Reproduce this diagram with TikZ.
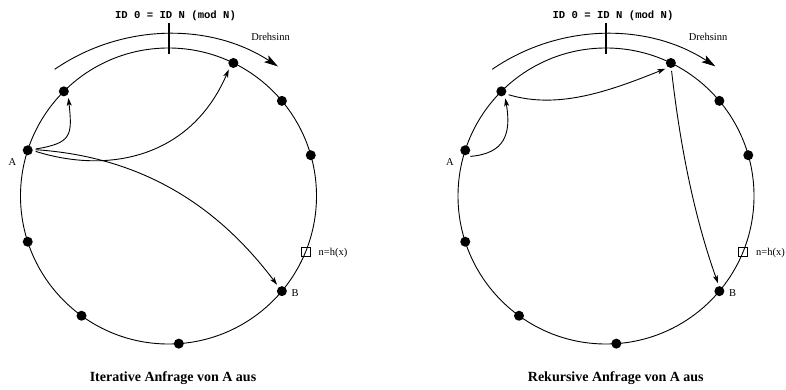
\documentclass[tikz,border=0pt]{standalone}
\usepackage{fontspec}
\setmainfont{Liberation Serif}
\setmonofont{Liberation Mono}
\usetikzlibrary{arrows.meta}
\begin{document}
\begin{tikzpicture}[x=1pt,y=1pt,
  ring/.style={line width=0.9pt},
  peer/.style={circle,fill=black,inner sep=0pt,minimum size=10pt,outer sep=3pt},
  keybox/.style={draw,line width=0.8pt,inner sep=0pt,minimum size=9pt},
  lookup/.style={line width=0.9pt,-{Stealth[length=8pt,width=5pt,inset=2pt]}},
  spin/.style={line width=0.9pt,-{Stealth[length=14pt,width=8pt,inset=3pt]}},
  zeromark/.style={line width=2pt},
  lbl/.style={font=\fontsize{10.5}{12}\selectfont},
  idlbl/.style={font=\fontsize{10.6}{12}\selectfont\ttfamily\bfseries},
  caption/.style={font=\fontsize{14}{16}\selectfont\bfseries}
]
\useasboundingbox (0,0) rectangle (786,389);

% ---------- iterative lookup ----------
\begin{scope}[shift={(168.5,193)}]
  \draw[ring] (0,0) circle[radius=148];
  \draw[spin] (0,-39) ++(124.5:201) arc[start angle=124.5,end angle=57,radius=201];
  \draw[zeromark] (0,142) -- (0,173);
  \node[idlbl] (Lid) at (7,180) {ID 0 = ID N (mod N)};
  \node[lbl] (Ldir) at (102,159) {Drehsinn};
  \node[peer] (Ln1) at (135:148) {};
  \node[peer] (Ln2) at (64:148) {};
  \node[peer] (Ln3) at (40:148) {};
  \node[peer] (Ln4) at (16:148) {};
  \node[peer] (LA) at (162:148) {};
  \node[peer] (Ln5) at (198:148) {};
  \node[peer] (Ln6) at (234:148) {};
  \node[peer] (Ln7) at (274:148) {};
  \node[peer] (LB) at (320:148) {};
  \node[keybox] (Lkey) at (338:148) {};
  \node[lbl] (LAl) at (-156,34) {A};
  \node[lbl] (LBl) at (126.5,-97.5) {B};
  \node[lbl,anchor=west,inner sep=0pt] (Lkeyl) at (150,-56.5) {n=h(x)};
  \draw[lookup] (LA.9) .. controls +(36,6) and +(4,-38) .. (Ln1.-55);
  \draw[lookup] (LA.-8) .. controls +(73,-23) and +(-38,-88) .. (Ln2.-125);
  \draw[lookup] (LA.4) .. controls +(120,-8) and +(-50,66) .. (LB.127);
  \node[caption] (Lcap) at (4.5,-182) {Iterative Anfrage von A aus};
\end{scope}

% ---------- recursive lookup ----------
\begin{scope}[shift={(606,193)}]
  \draw[ring] (0,0) circle[radius=148];
  \draw[spin] (0,-39) ++(124.5:201) arc[start angle=124.5,end angle=57,radius=201];
  \draw[zeromark] (0,142) -- (0,173);
  \node[idlbl] (Rid) at (7,180) {ID 0 = ID N (mod N)};
  \node[lbl] (Rdir) at (102,159) {Drehsinn};
  \node[peer] (Rn1) at (135:148) {};
  \node[peer] (Rn2) at (64:148) {};
  \node[peer] (Rn3) at (40:148) {};
  \node[peer] (Rn4) at (16:148) {};
  \node[peer] (RA) at (162:148) {};
  \node[peer] (Rn5) at (198:148) {};
  \node[peer] (Rn6) at (234:148) {};
  \node[peer] (Rn7) at (274:148) {};
  \node[peer] (RB) at (320:148) {};
  \node[keybox] (Rkey) at (338:148) {};
  \node[lbl] (RAl) at (-156,34) {A};
  \node[lbl] (RBl) at (126.5,-97.5) {B};
  \node[lbl,anchor=west,inner sep=0pt] (Rkeyl) at (150,-56.5) {n=h(x)};
  \draw[lookup] (RA.-50) .. controls +(35,3) and +(6,-35) .. (Rn1.-60);
  \draw[lookup] (Rn1.-25) .. controls +(50,-15) and +(-55,-22) .. (Rn2.-134);
  \draw[lookup] (Rn2.-85) .. controls +(8,-70) and +(-25,70) .. (RB.100);
  \node[caption] (Rcap) at (9.8,-182) {Rekursive Anfrage von A aus};
\end{scope}
\end{tikzpicture}
\end{document}
